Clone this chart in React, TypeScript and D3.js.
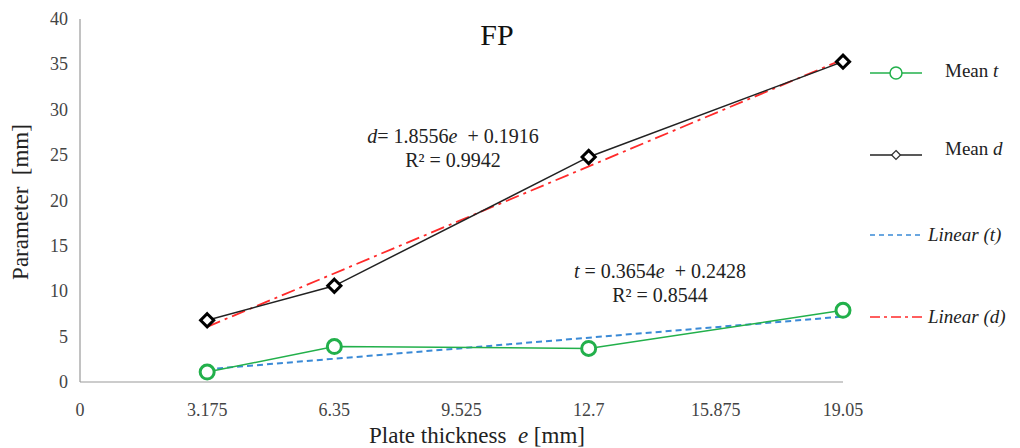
import { useEffect, useRef } from "react";
import * as d3 from "d3";

const thickness = [3.175, 6.35, 12.7, 19.05];
const meanT = [1.1, 3.9, 3.7, 7.9];
const meanD = [6.8, 10.6, 24.8, 35.3];
const xTicks = [0, 3.175, 6.35, 9.525, 12.7, 15.875, 19.05];
const yTicks = [0, 5, 10, 15, 20, 25, 30, 35, 40];
// trendline coefficients [slope, intercept]
const fitT = [0.3654, 0.2428];
const fitD = [1.8556, 0.1916];

const serif = "'Liberation Serif', 'Times New Roman', serif";
const GREEN = "#22b04b";
const BLUE = "#3a8ad6";
const RED = "#ff2a2a";

export default function App() {
  const svgRef = useRef<SVGSVGElement>(null);

  useEffect(() => {
    if (!svgRef.current) return;
    const svg = d3.select(svgRef.current);
    svg.selectAll("*").remove();

    const x = d3.scaleLinear().domain([0, 19.05]).range([80, 843]);
    const y = d3.scaleLinear().domain([0, 40]).range([382, 19]);

    svg.append("rect").attr("width", 1020).attr("height", 448).attr("fill", "#fff");

    // axes
    svg.append("line").attr("x1", x(0)).attr("x2", x(0)).attr("y1", y(40)).attr("y2", y(0))
      .attr("stroke", "#999").attr("stroke-width", 1.2);
    svg.append("line").attr("x1", x(0)).attr("x2", x(19.05)).attr("y1", y(0)).attr("y2", y(0))
      .attr("stroke", "#999").attr("stroke-width", 1.2);

    svg.append("g").selectAll("text").data(yTicks).enter().append("text")
      .attr("x", 68).attr("y", (d) => y(d) + 6)
      .attr("text-anchor", "end").attr("font-family", serif).attr("font-size", 18)
      .attr("fill", "#444").text((d) => d);

    svg.append("g").selectAll("text").data(xTicks).enter().append("text")
      .attr("x", (d) => x(d)).attr("y", 416)
      .attr("text-anchor", "middle").attr("font-family", serif).attr("font-size", 18)
      .attr("fill", "#444").text((d) => d);

    // axis titles
    const xl = svg.append("text").attr("x", 477).attr("y", 443).attr("text-anchor", "middle")
      .style("white-space", "pre")
      .attr("font-family", serif).attr("font-size", 23).attr("fill", "#222");
    xl.append("tspan").text("Plate thickness  ");
    xl.append("tspan").attr("font-style", "italic").text("e");
    xl.append("tspan").text(" [mm]");

    svg.append("text").attr("transform", "translate(28,202) rotate(-90)")
      .style("white-space", "pre")
      .attr("text-anchor", "middle").attr("font-family", serif).attr("font-size", 23)
      .attr("fill", "#222").text("Parameter  [mm]");

    svg.append("text").attr("x", 497).attr("y", 45).attr("text-anchor", "middle")
      .attr("font-family", serif).attr("font-size", 30).attr("fill", "#111").text("FP");

    // trendlines
    const xs = [thickness[0], thickness[thickness.length - 1]];
    const trend = (fit: number[]) => xs.map((e) => [x(e), y(fit[0] * e + fit[1])] as [number, number]);
    svg.append("path").attr("d", d3.line()(trend(fitT))).attr("fill", "none")
      .attr("stroke", BLUE).attr("stroke-width", 2).attr("stroke-dasharray", "6,4");
    svg.append("path").attr("d", d3.line()(trend(fitD))).attr("fill", "none")
      .attr("stroke", RED).attr("stroke-width", 1.8).attr("stroke-dasharray", "14,5,3,5");

    const line = d3.line<number>().x((_, i) => x(thickness[i])).y((d) => y(d));
    svg.append("path").attr("d", line(meanT)).attr("fill", "none")
      .attr("stroke", GREEN).attr("stroke-width", 1.5);
    svg.append("path").attr("d", line(meanD)).attr("fill", "none")
      .attr("stroke", "#222").attr("stroke-width", 1.5);

    svg.append("g").selectAll("circle").data(meanT).enter().append("circle")
      .attr("cx", (_, i) => x(thickness[i])).attr("cy", (d) => y(d)).attr("r", 7)
      .attr("fill", "#fff").attr("stroke", GREEN).attr("stroke-width", 3);

    const diamond = d3.symbol().type(d3.symbolDiamond2).size(110);
    svg.append("g").selectAll("path").data(meanD).enter().append("path")
      .attr("d", diamond)
      .attr("transform", (d, i) => `translate(${x(thickness[i])},${y(d)})`)
      .attr("fill", "#fff").attr("stroke", "#000").attr("stroke-width", 3);

    // equations
    const eq = (cx: number, cy: number, v: string, sep: string, fit: number[], r2: string) => {
      const t1 = svg.append("text").attr("x", cx).attr("y", cy).attr("text-anchor", "middle")
        .style("white-space", "pre")
        .attr("font-family", serif).attr("font-size", 20).attr("fill", "#222");
      t1.append("tspan").attr("font-style", "italic").text(v);
      t1.append("tspan").text(`${sep}= ${fit[0]}`);
      t1.append("tspan").attr("font-style", "italic").text("e");
      t1.append("tspan").text(`  + ${fit[1]}`);
      svg.append("text").attr("x", cx).attr("y", cy + 24).attr("text-anchor", "middle")
        .attr("font-family", serif).attr("font-size", 20).attr("fill", "#222")
        .text(`R² = ${r2}`);
    };
    eq(453, 143, "d", "", fitD, "0.9942");
    eq(660, 278, "t", " ", fitT, "0.8544");

    // legend
    const lg = svg.append("g").attr("font-family", serif).attr("font-size", 19).attr("fill", "#222");
    const rowT = lg.append("g").attr("transform", "translate(0,73)");
    rowT.append("line").attr("x1", 870).attr("x2", 922).attr("stroke", GREEN).attr("stroke-width", 1.5);
    rowT.append("circle").attr("cx", 896).attr("r", 6).attr("fill", "#fff").attr("stroke", GREEN).attr("stroke-width", 1.5);
    const tt = rowT.append("text").attr("x", 945).attr("y", 4);
    tt.append("tspan").text("Mean ");
    tt.append("tspan").attr("font-style", "italic").text("t");

    const rowD = lg.append("g").attr("transform", "translate(0,155)");
    rowD.append("line").attr("x1", 870).attr("x2", 922).attr("stroke", "#222").attr("stroke-width", 1.5);
    rowD.append("path").attr("d", d3.symbol().type(d3.symbolDiamond2).size(50)).attr("transform", "translate(896,0)")
      .attr("fill", "#fff").attr("stroke", "#333").attr("stroke-width", 1.3);
    const td = rowD.append("text").attr("x", 945).attr("y", 0);
    td.append("tspan").text("Mean ");
    td.append("tspan").attr("font-style", "italic").text("d");

    const rowLT = lg.append("g").attr("transform", "translate(0,235)");
    rowLT.append("line").attr("x1", 870).attr("x2", 922).attr("stroke", BLUE).attr("stroke-width", 1.5).attr("stroke-dasharray", "5,4");
    rowLT.append("text").attr("x", 928).attr("y", 6).attr("font-style", "italic").text("Linear (t)");

    const rowLD = lg.append("g").attr("transform", "translate(0,317)");
    rowLD.append("line").attr("x1", 870).attr("x2", 922).attr("stroke", RED).attr("stroke-width", 1.5).attr("stroke-dasharray", "10,4,3,4");
    rowLD.append("text").attr("x", 928).attr("y", 6).attr("font-style", "italic").text("Linear (d)");
  }, []);

  return (
    <svg ref={svgRef} width={1020} height={448}
      style={{ position: "absolute", left: 0, top: 0, display: "block" }} />
  );
}
